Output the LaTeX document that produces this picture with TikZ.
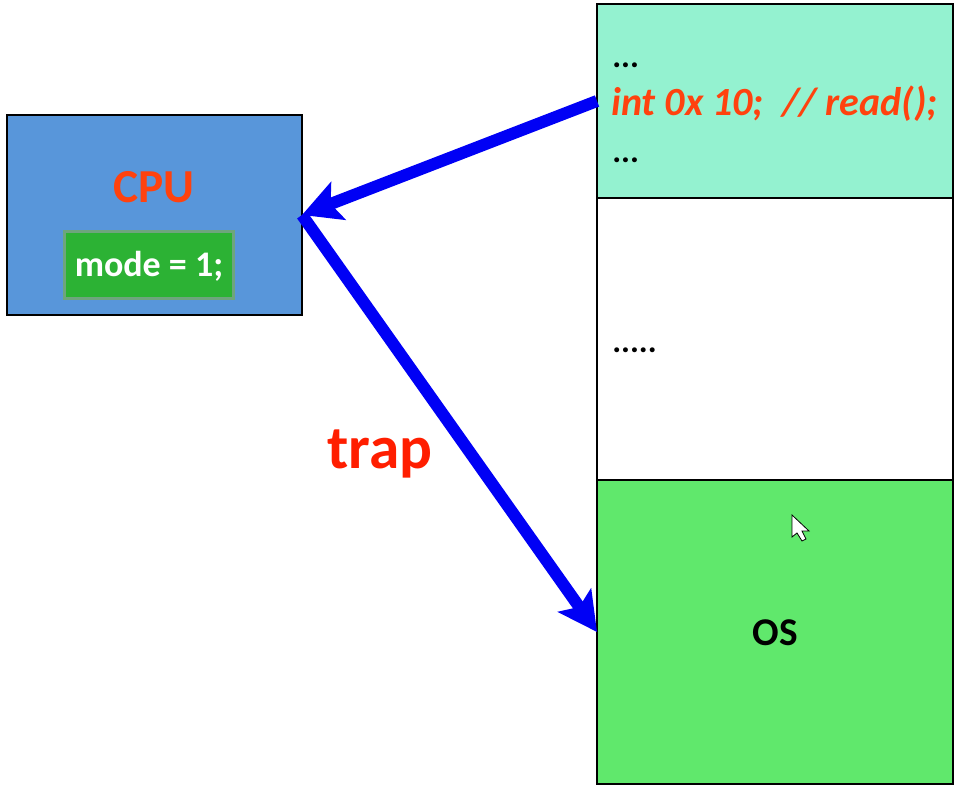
\documentclass[tikz,border=0pt]{standalone}
\usepackage{fontspec}
\setmainfont{Carlito}
\usetikzlibrary{arrows.meta}
\definecolor{cpublue}{RGB}{88,150,218}
\definecolor{modegreen}{RGB}{44,178,52}
\definecolor{codegreen}{RGB}{148,242,208}
\definecolor{osgreen}{RGB}{96,232,108}
\definecolor{hotred}{RGB}{255,66,14}
\definecolor{trapred}{RGB}{255,30,0}
\tikzset{
	box/.style={draw=black, line width=1.9pt, rectangle, outer sep=0pt, inner sep=0pt},
	bigarrow/.style={draw={rgb,255:red,0;green,0;blue,245}, line width=9pt, -{Stealth[length=29pt,width=30pt,inset=6pt]}},
	dots/.style={anchor=base west, inner sep=0pt, font=\bfseries\fontsize{25}{25}\selectfont}
}
\begin{document}
\begin{tikzpicture}[x=0.75pt,y=-0.75pt]
	\useasboundingbox (0,0) rectangle (957,787);
	\node[box, fill=cpublue, minimum width=221.25pt, minimum height=150pt] (cpu) at (154.5,215) {};
	\node[box, fill=codegreen, minimum width=267pt, minimum height=145.5pt] (code) at (775,101) {};
	\node[box, fill=white, minimum width=267pt, minimum height=211.5pt] (mid) at (775,339) {};
	\node[box, fill=osgreen, minimum width=267pt, minimum height=228pt] (os) at (775,632) {};

	\node[draw={rgb,255:red,110;green,165;blue,125}, line width=2.2pt, fill=modegreen, minimum width=127pt, minimum height=50pt, inner sep=0pt, text=white, font=\bfseries\fontsize{27}{27}\selectfont] (mode) at (149,265) {\raisebox{-8.5pt}[0pt][0pt]{mode = 1;}};
	\node[text=hotred, inner sep=0pt, font=\bfseries\fontsize{35.5}{35.5}\selectfont] (cpulabel) at (154,187) {CPU};

	\node[dots] (dotsa) at (612,68) {...};
	\node[anchor=base west, inner sep=0pt, text=hotred, font=\bfseries\itshape\fontsize{30}{30}\selectfont] (readcall) at (611,116) {int 0x 10;\ \ // read();};
	\node[dots] (dotsb) at (612,163) {...};
	\node[dots] (dotsc) at (612,353) {.....};
	\node[inner sep=0pt, font=\bfseries\fontsize{29.5}{29.5}\selectfont] (oslabel) at (775,633) {OS};
	\node[text=trapred, inner sep=0pt, font=\bfseries\fontsize{46}{46}\selectfont] (traplabel) at (380,454) {trap};

	\draw[bigarrow] (code.west) -- (cpu.east);
	\draw[bigarrow] (cpu.east) -- (os.west);

	% mouse pointer
	\filldraw[fill=white, draw=black, line width=0.6pt] (792,515) -- (792,537) -- (797,533) -- (802,541) -- (806,539) -- (802,531) -- (809,531) -- cycle;
\end{tikzpicture}
\end{document}
